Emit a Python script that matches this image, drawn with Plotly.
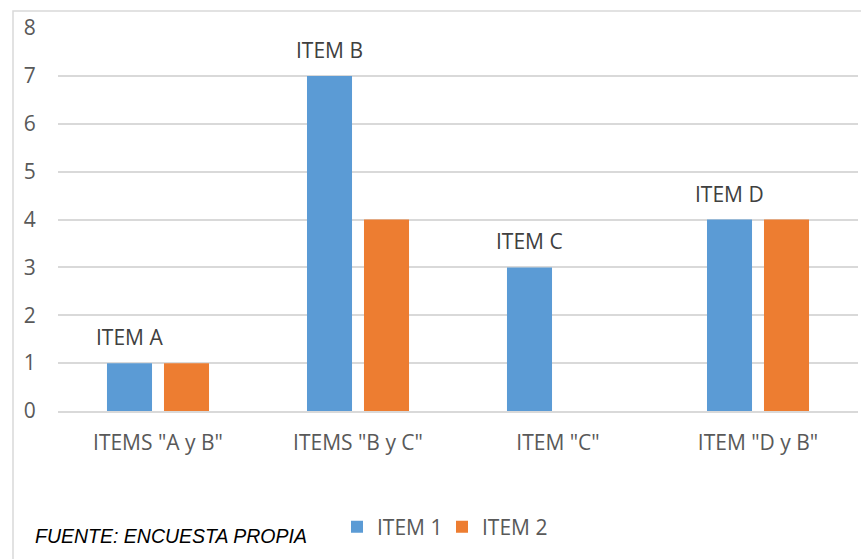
import plotly.graph_objects as go

categories = ['ITEMS "A y B"', 'ITEMS "B y C"', 'ITEM "C"', 'ITEM "D y B"']
item1 = [1, 7, 3, 4]
item2 = [1, 4, 0, 4]
item1_labels = ["ITEM A", "ITEM B", "ITEM C", "ITEM D"]
y_ticks = [0, 1, 2, 3, 4, 5, 6, 7, 8]

BLUE = "#5B9BD5"
ORANGE = "#ED7D31"
GRID = "#D9D9D9"
TXT = "#595959"
FONT = "Open Sans, DejaVu Sans, sans-serif"

fig = go.Figure()
fig.add_trace(go.Bar(x=categories, y=item1, name="ITEM 1", marker_color=BLUE,
                     marker_line_width=0))
fig.add_trace(go.Bar(x=categories, y=item2, name="ITEM 2", marker_color=ORANGE,
                     marker_line_width=0))

for c, v, t in zip(categories, item1, item1_labels):
    fig.add_annotation(x=c, y=v, text=t, showarrow=False, xshift=-28.5,
                       yanchor="bottom", yshift=10,
                       font=dict(family=FONT, size=21, color="#404040"))

fig.add_annotation(xref="paper", yref="paper", x=(33 - 58) / 800, y=(411 - 536) / 383,
                   xanchor="left", yanchor="middle", showarrow=False,
                   text="<i>FUENTE: ENCUESTA PROPIA</i>",
                   font=dict(family="Liberation Sans Narrow, Arial Narrow, Liberation Sans, sans-serif",
                             size=19.5, color="#000000"))

fig.add_shape(type="rect", xref="paper", yref="paper",
              x0=(13 - 58) / 800, x1=1.02, y0=-0.6, y1=(411 - 11) / 383,
              line=dict(color=GRID, width=1.5), fillcolor="rgba(0,0,0,0)", layer="below")

fig.update_layout(
    width=861, height=559,
    margin=dict(l=58, r=3, t=28, b=148),
    paper_bgcolor="white", plot_bgcolor="white",
    barmode="group", bargap=0.43, bargroupgap=0.21,
    font=dict(family=FONT, color=TXT),
    showlegend=True,
    legend=dict(orientation="h", x=0.48, xanchor="center", y=(411 - 527) / 383,
                yanchor="middle", font=dict(family=FONT, size=21, color=TXT),
                itemwidth=30, traceorder="normal", entrywidth=60, entrywidthmode="pixels"),
)
fig.update_xaxes(showgrid=False, showline=True, linecolor=GRID, linewidth=1.5,
                 ticks="outside", ticklen=12, tickcolor="rgba(0,0,0,0)",
                 tickfont=dict(family=FONT, size=21, color=TXT))
fig.update_yaxes(range=[0, 8], tickvals=y_ticks, showgrid=True, gridcolor=GRID, gridwidth=1.5,
                 zeroline=False, showline=False,
                 ticks="outside", ticklen=17, tickcolor="rgba(0,0,0,0)",
                 tickfont=dict(family=FONT, size=21, color=TXT))

fig.write_html("out.html")
